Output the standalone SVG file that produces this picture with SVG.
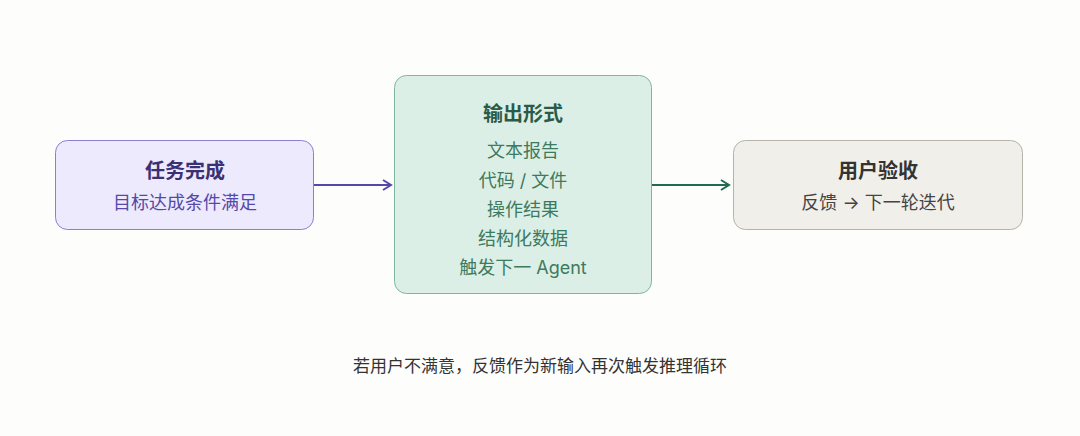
<svg xmlns="http://www.w3.org/2000/svg" width="1080" height="436" viewBox="0 0 1080 436">
<style>
text{font-family:"Inter","Noto Sans CJK SC",sans-serif;text-anchor:middle}
.t{font-size:20px;font-weight:700}
.s{font-size:18px}
</style>
<defs>
<marker id="ap" markerWidth="12" markerHeight="12" refX="10" refY="6" orient="auto" markerUnits="userSpaceOnUse"><path d="M2,1 L10,6 L2,11" fill="none" stroke="#5448a8" stroke-width="2"/></marker>
<marker id="ag" markerWidth="12" markerHeight="12" refX="10" refY="6" orient="auto" markerUnits="userSpaceOnUse"><path d="M2,1 L10,6 L2,11" fill="none" stroke="#1f6b50" stroke-width="2"/></marker>
</defs>
<rect width="1080" height="436" fill="#fdfdfc"/>
<g id="connectors">
<line x1="314" y1="185" x2="391" y2="185" stroke="#5448a8" stroke-width="2" marker-end="url(#ap)"/>
<line x1="652" y1="185" x2="729" y2="185" stroke="#1f6b50" stroke-width="2" marker-end="url(#ag)"/>
</g>
<g id="n1">
<rect x="55.5" y="140.5" width="258" height="89" rx="12" fill="#edeafd" stroke="#8a80d0"/>
<text class="t" x="185" y="178" fill="#3a3073">任务完成</text>
<text class="s" x="185" y="209" fill="#5448a8">目标达成条件满足</text>
</g>
<g id="n2">
<rect x="394.5" y="75.5" width="257" height="218" rx="12" fill="#dcefe6" stroke="#7fb79d"/>
<text class="t" x="523" y="121" fill="#2b5a48">输出形式</text>
<text class="s" x="523" y="157" fill="#3d7a60">文本报告</text>
<text class="s" x="523" y="187" fill="#3d7a60">代码 / 文件</text>
<text class="s" x="523" y="216" fill="#3d7a60">操作结果</text>
<text class="s" x="523" y="245" fill="#3d7a60">结构化数据</text>
<text class="s" x="523" y="274" fill="#3d7a60">触发下一 Agent</text>
</g>
<g id="n3">
<rect x="733.5" y="140.5" width="289" height="89" rx="12" fill="#f1efe9" stroke="#b5b2a8"/>
<text class="t" x="878" y="178" fill="#333">用户验收</text>
<text class="s" x="878" y="209" fill="#444">反馈 → 下一轮迭代</text>
</g>
<text x="540" y="372" font-size="17" fill="#333">若用户不满意，反馈作为新输入再次触发推理循环</text>
</svg>
